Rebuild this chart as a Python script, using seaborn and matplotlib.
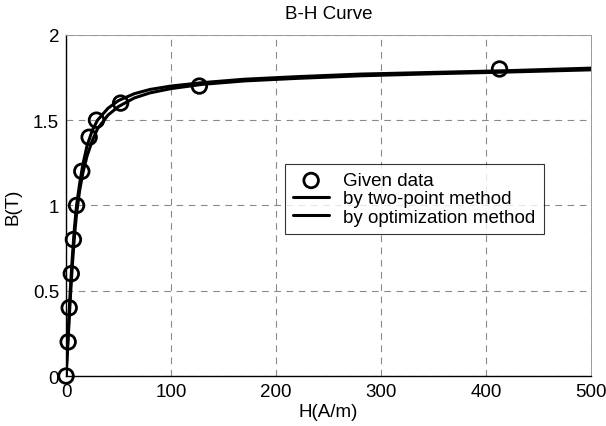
import seaborn as sns
import matplotlib.pyplot as plt
import pandas as pd

# measured B-H points
H_data = [0, 2, 3, 5, 7, 10, 15, 22, 29, 52, 127, 413]
B_data = [0.0, 0.2, 0.4, 0.6, 0.8, 1.0, 1.2, 1.4, 1.5, 1.6, 1.7, 1.8]

# fitted curves
H_fit = [0, 2, 4, 6, 8, 10, 13, 16, 20, 25, 30, 40, 50, 65, 80, 100, 130,
         170, 220, 280, 350, 420, 500]
B_two_point = [0.0, 0.25, 0.50, 0.70, 0.87, 1.00, 1.13, 1.24, 1.35, 1.44,
               1.50, 1.57, 1.615, 1.655, 1.68, 1.70, 1.72, 1.74, 1.755,
               1.77, 1.78, 1.79, 1.805]
B_optim = [0.0, 0.22, 0.45, 0.65, 0.82, 0.95, 1.09, 1.19, 1.29, 1.38,
           1.45, 1.53, 1.58, 1.63, 1.66, 1.685, 1.71, 1.73, 1.745,
           1.76, 1.772, 1.782, 1.795]

fits = pd.DataFrame({'H': H_fit * 2,
                     'B': B_two_point + B_optim,
                     'method': ['by two-point method'] * len(H_fit)
                               + ['by optimization method'] * len(H_fit)})
points = pd.DataFrame({'H': H_data, 'B': B_data})

sns.set_style('white')
plt.rcParams['font.family'] = ['Liberation Sans', 'DejaVu Sans']
plt.rcParams['text.color'] = 'black'
plt.rcParams['axes.labelcolor'] = 'black'

fig = plt.figure(figsize=(6.06, 4.27), dpi=100)
ax = fig.add_axes([0.109, 0.117, 0.866, 0.799])

sns.scatterplot(data=points, x='H', y='B', ax=ax, s=110, marker='o',
                facecolor='none', edgecolor='black', linewidth=2,
                label='Given data', clip_on=False, zorder=3)
sns.lineplot(data=fits, x='H', y='B', hue='method', ax=ax,
             palette=['black', 'black'], linewidth=2.2, legend=False)

ax.set_xlim(0, 500)
ax.set_ylim(0, 2)
ax.set_xticks([0, 100, 200, 300, 400, 500])
ax.set_yticks([0, 0.5, 1, 1.5, 2])
ax.set_yticklabels(['0', '0.5', '1', '1.5', '2'])
ax.grid(True, color='#8a8a8a', linestyle=(0, (6, 5)), linewidth=0.8)
ax.tick_params(direction='in', length=4, labelsize=13.5, colors='black', pad=5)
for side in ['top', 'right']:
    ax.spines[side].set_color('#9a9a9a')
    ax.spines[side].set_linewidth(0.7)
for side in ['left', 'bottom']:
    ax.spines[side].set_color('black')
    ax.spines[side].set_linewidth(1)

ax.set_title('B-H Curve', fontsize=13.5, pad=12)
ax.set_xlabel('H(A/m)', fontsize=13.5, labelpad=2)
ax.set_ylabel('B(T)', fontsize=13.5, labelpad=8)

handles = [ax.collections[0], ax.lines[0], ax.lines[1]]
labels = ['Given data', 'by two-point method', 'by optimization method']
leg = ax.legend(handles, labels, loc='upper left', bbox_to_anchor=(0.417, 0.622),
                borderaxespad=0, fontsize=13.5, frameon=True, fancybox=False,
                borderpad=0.45, labelspacing=0.05, handlelength=1.9,
                handletextpad=0.75)
leg.get_frame().set_edgecolor('black')
leg.get_frame().set_linewidth(0.8)

fig.savefig('out.png', dpi=100)
